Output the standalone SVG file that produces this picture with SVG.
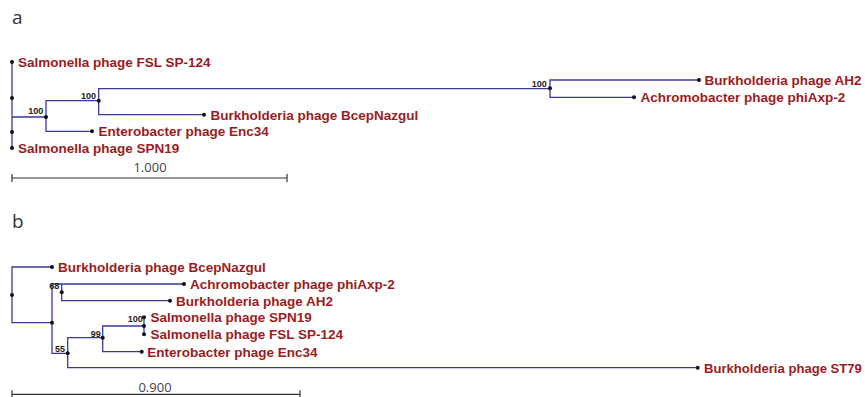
<svg xmlns="http://www.w3.org/2000/svg" width="865" height="397" viewBox="0 0 865 397">
<style>
.br{stroke:#3a3a9c;stroke-width:1.3;fill:none}
.sb{stroke:#333;stroke-width:1.2;fill:none}
.dot{fill:#111}
.tx{font-family:"Liberation Sans",Arial,sans-serif;font-weight:bold;font-size:13.5px;fill:#9b1c1e}
.bs{font-family:"Liberation Sans",Arial,sans-serif;font-weight:bold;font-size:9px;fill:#222}
.sc{font-family:"Open Sans",sans-serif;font-size:13px;fill:#444;text-anchor:middle}
.pl{font-family:"Open Sans",sans-serif;font-size:19px;fill:#333}
</style>
<rect width="865" height="397" fill="#fff"/>
<text class="pl" x="12" y="23.5">a</text>
<text class="pl" x="12" y="228">b</text>

<g id="connectors-a">
<path class="br" d="M12 62 V148 M12 117 H46 M92 131.3 H46 V100.7 H98.7 M204 114.7 H98.7 V88.7 H550 M699 80 H550 V97.3 H634"/>
</g>
<g id="a-root"><circle class="dot" cx="12" cy="98" r="2"/><circle class="dot" cx="12" cy="132" r="2"/></g>
<g id="a-n1"><circle class="dot" cx="46" cy="117" r="2"/><text class="bs" x="28.3" y="114.3">100</text></g>
<g id="a-n2"><circle class="dot" cx="98.7" cy="100.7" r="2"/><text class="bs" x="81" y="99">100</text></g>
<g id="a-n3"><circle class="dot" cx="550" cy="88.3" r="2"/><text class="bs" x="531.7" y="86.5">100</text></g>
<g id="a-fsl"><circle class="dot" cx="12" cy="62" r="2"/><text class="tx" x="18" y="67">Salmonella phage FSL SP-124</text></g>
<g id="a-spn19"><circle class="dot" cx="12" cy="148" r="2"/><text class="tx" x="18" y="153">Salmonella phage SPN19</text></g>
<g id="a-enc34"><circle class="dot" cx="92" cy="131.3" r="2"/><text class="tx" x="98.5" y="136.3">Enterobacter phage Enc34</text></g>
<g id="a-bcep"><circle class="dot" cx="204" cy="114.7" r="2"/><text class="tx" x="210.5" y="119.7">Burkholderia phage BcepNazgul</text></g>
<g id="a-ah2"><circle class="dot" cx="699" cy="80" r="2"/><text class="tx" x="704.5" y="85">Burkholderia phage AH2</text></g>
<g id="a-phiaxp"><circle class="dot" cx="634" cy="97.3" r="2"/><text class="tx" x="640.5" y="102.3">Achromobacter phage phiAxp-2</text></g>
<g id="a-scale"><path class="sb" d="M12 178 H287 M12 174 V182 M287 174 V182"/><text class="sc" x="150" y="171.7">1.000</text></g>

<g id="connectors-b">
<path class="br" d="M52 267 H12 V322.7 H52 M184 284 H52 V353.3 H67.7 M61.7 284 V300.7 H170 M102.7 337.7 H67.7 V367.7 H697.7 M144 326 H102.7 V351.7 H141.7 M144 317.3 V334.3"/>
</g>
<g id="b-root"><circle class="dot" cx="12" cy="295" r="2"/></g>
<g id="b-n1"><circle class="dot" cx="52" cy="322.7" r="2"/></g>
<g id="b-n68"><circle class="dot" cx="61.7" cy="292.3" r="2"/><text class="bs" x="49.3" y="289.3">68</text></g>
<g id="b-n55"><circle class="dot" cx="67.7" cy="353.3" r="2"/><text class="bs" x="55" y="351.5">55</text></g>
<g id="b-n99"><circle class="dot" cx="102.7" cy="337.7" r="2"/><text class="bs" x="90.7" y="336.5">99</text></g>
<g id="b-n100"><circle class="dot" cx="144" cy="326" r="2"/><text class="bs" x="127.7" y="322">100</text></g>
<g id="b-bcep"><circle class="dot" cx="52" cy="267" r="2"/><text class="tx" x="58" y="272">Burkholderia phage BcepNazgul</text></g>
<g id="b-phiaxp"><circle class="dot" cx="184" cy="284" r="2"/><text class="tx" x="190" y="289">Achromobacter phage phiAxp-2</text></g>
<g id="b-ah2"><circle class="dot" cx="170" cy="300.7" r="2"/><text class="tx" x="176" y="305.7">Burkholderia phage AH2</text></g>
<g id="b-spn19"><circle class="dot" cx="144" cy="317.3" r="2"/><text class="tx" x="150.5" y="322.3">Salmonella phage SPN19</text></g>
<g id="b-fsl"><circle class="dot" cx="144" cy="334.3" r="2"/><text class="tx" x="150.5" y="339.3">Salmonella phage FSL SP-124</text></g>
<g id="b-enc34"><circle class="dot" cx="141.7" cy="351.7" r="2"/><text class="tx" x="147.3" y="356.7">Enterobacter phage Enc34</text></g>
<g id="b-st79"><circle class="dot" cx="697.7" cy="367.7" r="2"/><text class="tx" x="704" y="372.7" style="font-size:13.1px">Burkholderia phage ST79</text></g>
<g id="b-scale"><path class="sb" d="M12 394.3 H300 M12 390.3 V398 M300 390.3 V398"/><text class="sc" x="155" y="391.5">0.900</text></g>
</svg>
